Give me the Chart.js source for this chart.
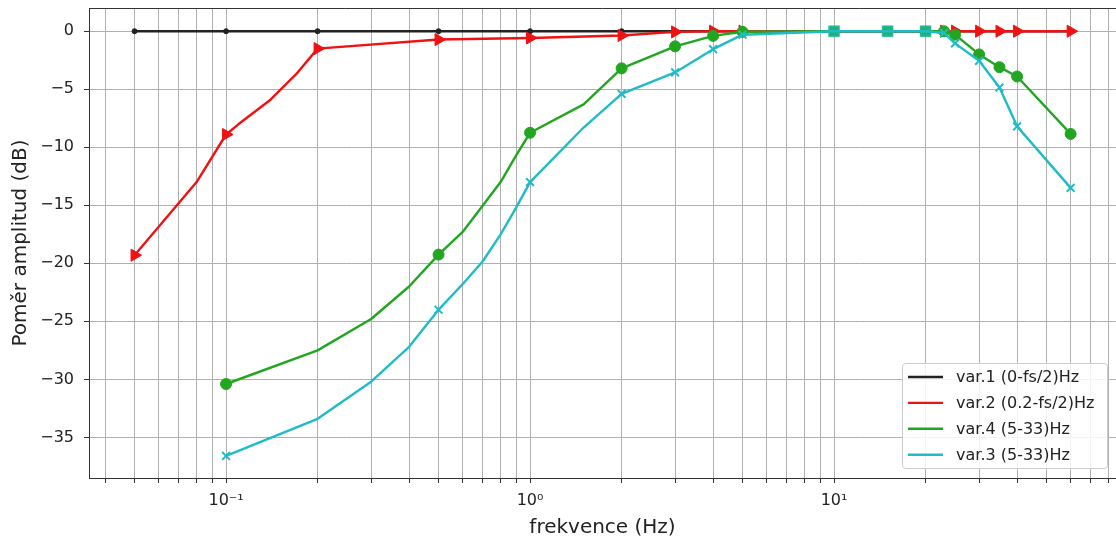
<!DOCTYPE html>
<html lang="cs">
<head>
<meta charset="UTF-8">
<title>Poměr amplitud</title>
<script src="https://cdn.jsdelivr.net/npm/chart.js"></script>
<style>
  body { margin: 0; background: #fff; }
</style>
</head>
<body>
<canvas id="chart" width="1116" height="543"></canvas>
<script>
// values (frequency in Hz, gain in dB)
const var1Freq = [0.05, 0.1, 0.2, 0.5, 1, 2, 3, 4, 5, 10, 15, 20, 23, 25, 30, 35, 40, 60];
const var1Gain = [0, 0, 0, 0, 0, 0, 0, 0, 0, 0, 0, 0, 0, 0, 0, 0, 0, 0];
const var1Marks = var1Freq;

const var2Freq = [0.05, 0.08, 0.1, 0.11, 0.14, 0.17, 0.2, 0.5, 1, 2, 3, 4, 5, 10, 15, 20, 23, 25, 30, 35, 40, 60];
const var2Gain = [-19.3, -13.0, -8.9, -8.0, -5.9, -3.7, -1.5, -0.72, -0.58, -0.37, -0.06, 0, 0, 0, 0, 0, 0, 0, 0, 0, 0, 0];
const var2Marks = [0.05, 0.1, 0.2, 0.5, 1, 2, 3, 4, 5, 23, 25, 30, 35, 40, 60];

const var4Freq = [0.1, 0.2, 0.3, 0.4, 0.5, 0.6, 0.7, 0.8, 0.9, 1, 1.5, 2, 3, 4, 5, 10, 15, 20, 23, 25, 30, 35, 40, 60];
const var4Gain = [-30.4, -27.5, -24.8, -22.0, -19.25, -17.3, -15.0, -13.0, -10.7, -8.75, -6.3, -3.2, -1.3, -0.4, -0.05, 0, 0, 0, 0, -0.3, -2.0, -3.1, -3.9, -8.85];
const var4Marks = [0.1, 0.5, 1, 2, 3, 4, 5, 10, 15, 20, 23, 25, 30, 35, 40, 60];

const var3Freq = [0.1, 0.2, 0.3, 0.4, 0.5, 0.6, 0.7, 0.8, 0.9, 1, 1.5, 2, 3, 4, 5, 10, 15, 20, 23, 25, 30, 35, 40, 60];
const var3Gain = [-36.6, -33.4, -30.2, -27.2, -24.0, -21.8, -19.8, -17.5, -15.2, -13.0, -8.3, -5.4, -3.55, -1.55, -0.3, 0, 0, 0, -0.15, -1.05, -2.55, -4.85, -8.2, -13.5];
const var3Marks = [0.1, 0.5, 1, 2, 3, 4, 5, 10, 15, 20, 23, 25, 30, 35, 40, 60];

// points drawn as squares on var.4 / var.3
const squareFreq = [10, 15, 20];

const seriesLabels = ['var.1 (0-fs/2)Hz', 'var.2 (0.2-fs/2)Hz', 'var.4 (5-33)Hz', 'var.3 (5-33)Hz'];

const yTicks = [-35, -30, -25, -20, -15, -10, -5, 0];
const xMajorTicks = [0.1, 1, 10];
const xMajorLabels = ['10\u207B\u00B9', '10\u2070', '10\u00B9'];
const xMinorTicks = [0.04, 0.05, 0.06, 0.07, 0.08, 0.09,
                     0.2, 0.3, 0.4, 0.5, 0.6, 0.7, 0.8, 0.9,
                     2, 3, 4, 5, 6, 7, 8, 9,
                     20, 30, 40, 50, 60, 70, 80];

const colors = ['#222222', '#f01212', '#22a622', '#1fbcc8'];

Chart.defaults.font.family = "'DejaVu Sans', sans-serif";
Chart.defaults.color = '#222';

function pts(fx, gy) {
    return fx.map((f, i) => ({ x: f, y: gy[i] }));
}

function markRadius(marks, r) {
    return ctx => (ctx.raw && marks.includes(ctx.raw.x)) ? r : 0;
}

function isSquare(ctx) {
    return ctx.raw && squareFreq.includes(ctx.raw.x);
}

// frame top edge + legend box in the lower right corner
const framePlugin = {
    id: 'frame',
    afterDatasetsDraw(chart) {
        const { ctx, chartArea: a } = chart;
        ctx.save();
        ctx.strokeStyle = '#333';
        ctx.lineWidth = 1;
        ctx.beginPath();
        ctx.moveTo(a.left, a.top + 0.5);
        ctx.lineTo(a.right, a.top + 0.5);
        ctx.stroke();
        ctx.restore();
    },
    afterDraw(chart) {
        const ctx = chart.ctx;
        const bx = 902.5, by = 363.5, bw = 205, bh = 105;
        ctx.save();
        ctx.fillStyle = 'rgba(255,255,255,0.85)';
        ctx.strokeStyle = '#cccccc';
        ctx.lineWidth = 1;
        ctx.beginPath();
        ctx.roundRect(bx, by, bw, bh, 3);
        ctx.fill();
        ctx.stroke();
        ctx.font = "16px 'DejaVu Sans'";
        ctx.textBaseline = 'middle';
        seriesLabels.forEach((lab, i) => {
            const y = 377 + i * 25.9;
            ctx.strokeStyle = colors[i];
            ctx.lineWidth = 2.4;
            ctx.beginPath();
            ctx.moveTo(908, y);
            ctx.lineTo(943, y);
            ctx.stroke();
            ctx.fillStyle = '#222';
            ctx.fillText(lab, 956, y + 1);
        });
        ctx.restore();
    }
};

const ctx = document.getElementById('chart').getContext('2d');
new Chart(ctx, {
    type: 'line',
    data: {
        datasets: [
            {
                label: seriesLabels[0], data: pts(var1Freq, var1Gain), order: 4,
                borderColor: colors[0], backgroundColor: colors[0], borderWidth: 2.4,
                pointRadius: markRadius(var1Marks, 2.5), pointStyle: 'circle', pointBorderWidth: 1
            },
            {
                label: seriesLabels[1], data: pts(var2Freq, var2Gain), order: 3,
                borderColor: colors[1], backgroundColor: colors[1], borderWidth: 2.4,
                pointRadius: markRadius(var2Marks, 7), pointStyle: 'triangle', pointRotation: 90,
                pointBorderWidth: 1
            },
            {
                label: seriesLabels[2], data: pts(var4Freq, var4Gain), order: 2,
                borderColor: colors[2], backgroundColor: colors[2], borderWidth: 2.4,
                pointRadius: ctx => isSquare(ctx) ? 7 : markRadius(var4Marks, 5.5)(ctx),
                pointStyle: ctx => isSquare(ctx) ? 'rect' : 'circle', pointBorderWidth: 1
            },
            {
                label: seriesLabels[3], data: pts(var3Freq, var3Gain), order: 1,
                borderColor: colors[3], borderWidth: 2.4,
                backgroundColor: ctx => isSquare(ctx) ? 'rgba(31,188,200,0.5)' : colors[3],
                pointBorderColor: ctx => isSquare(ctx) ? 'rgba(31,188,200,0.5)' : colors[3],
                pointRadius: ctx => isSquare(ctx) ? 7 : markRadius(var3Marks, 5.5)(ctx),
                pointStyle: ctx => isSquare(ctx) ? 'rect' : 'crossRot', pointBorderWidth: 2
            }
        ]
    },
    options: {
        responsive: false,
        animation: false,
        events: [],
        layout: { autoPadding: false, padding: { top: 8, left: 0, right: 0, bottom: 0 } },
        elements: { line: { tension: 0, borderJoinStyle: 'round', borderCapStyle: 'round' } },
        plugins: { legend: { display: false }, tooltip: { enabled: false } },
        scales: {
            x: {
                type: 'logarithmic',
                min: 0.03541,
                max: 84.6,
                afterBuildTicks: s => {
                    s.ticks = xMinorTicks.concat(xMajorTicks).sort((a, b) => a - b).map(v => ({ value: v }));
                },
                afterFit: s => { s.height = 65; s.paddingLeft = 0; s.paddingRight = 0; },
                ticks: {
                    autoSkip: false, maxRotation: 0, padding: 8,
                    font: { size: 16 }, color: '#222',
                    callback: v => {
                        const i = xMajorTicks.indexOf(v);
                        return i >= 0 ? xMajorLabels[i] : '';
                    }
                },
                grid: { color: '#b0b0b0', lineWidth: 1, tickLength: 5, tickColor: '#333' },
                border: { color: '#333', width: 1 },
                title: {
                    display: true, text: 'frekvence (Hz)',
                    font: { size: 20 }, color: '#222',
                    padding: { top: 0, bottom: 3 }
                }
            },
            y: {
                type: 'linear',
                min: -38.5,
                max: 2.0,
                afterBuildTicks: s => { s.ticks = yTicks.map(v => ({ value: v })); },
                afterFit: s => { s.width = 89; s.paddingTop = 0; s.paddingBottom = 0; },
                ticks: {
                    padding: 10, font: { size: 16 }, color: '#222',
                    callback: v => v < 0 ? '\u2212' + Math.abs(v) : String(v)
                },
                grid: { color: '#b0b0b0', lineWidth: 1, tickLength: 5, tickColor: '#333' },
                border: { color: '#333', width: 1 },
                title: {
                    display: true, text: 'Poměr amplitud (dB)',
                    font: { size: 20 }, color: '#222',
                    padding: { top: 9, bottom: 0 }
                }
            }
        }
    },
    plugins: [framePlugin]
});
</script>
</body>
</html>
